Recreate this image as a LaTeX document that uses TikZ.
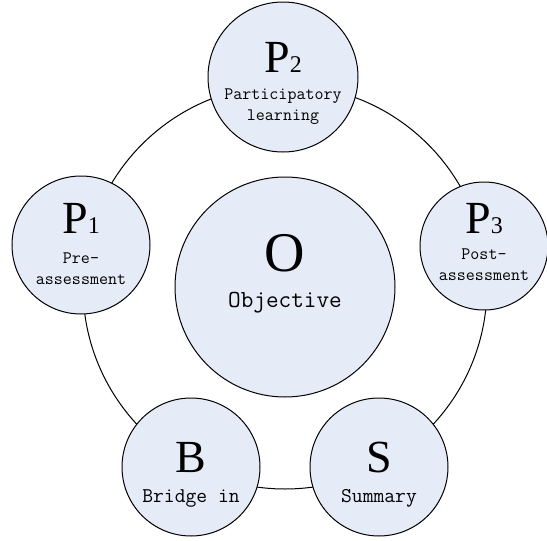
\documentclass[tikz,border=0pt]{standalone}
\usepackage{fontspec}
\setmainfont{Liberation Serif}
\usetikzlibrary{calc}
\definecolor{cfill}{RGB}{230,236,247}
\tikzset{
  bub/.style={circle, draw=black, line width=1pt, fill=cfill, inner sep=0pt},
  big/.style={anchor=base, inner sep=0pt, font=\fontsize{46}{46}\selectfont},
  lab/.style={inner sep=0pt, align=center, font=\ttfamily\fontsize{17.5}{21}\selectfont},
}
\newcommand{\sub}[1]{{\fontsize{24}{24}\selectfont #1}}
\begin{document}
\begin{tikzpicture}[x=1pt,y=-1pt]
\useasboundingbox (0,0) rectangle (547,541);
\coordinate (rc) at (285,287);
\draw[line width=1pt] (rc) circle (202pt);
\node[bub, minimum size=150pt] (p2) at (283,77) {};
\node[bub, minimum size=138pt] (p1) at (81,245) {};
\node[bub, minimum size=128pt] (p3) at (484,246) {};
\node[bub, minimum size=220pt] (o) at (285,287) {};
\node[bub, minimum size=138pt] (b) at (191,467) {};
\node[bub, minimum size=138pt] (s) at (379,467) {};
% texts
\node[big] (p2t) at ($(p2)+(0,-5)$) {P\sub{2}};
\node[lab] (p2l) at ($(p2)+(0,30)$) {Participatory\\learning};
\node[big] (p1t) at ($(p1)+(0,-12)$) {P\sub{1}};
\node[lab] (p1l) at ($(p1)+(0,24)$) {Pre-\\assessment};
\node[big] (p3t) at ($(p3)+(0,-13)$) {P\sub{3}};
\node[lab] (p3l) at ($(p3)+(0,19)$) {Post-\\assessment};
\node[big, font=\fontsize{56}{56}\selectfont] (ot) at ($(o)+(0,-16)$) {O};
\node[lab, font=\ttfamily\fontsize{24.5}{25}\selectfont] (ol) at ($(o)+(0,16)$) {Objective};
\node[big] (bt) at ($(b)+(0,5)$) {B};
\node[lab, font=\ttfamily\fontsize{21}{22}\selectfont] (bl) at ($(b)+(0,31)$) {Bridge in};
\node[big] (st) at ($(s)+(0,5)$) {S};
\node[lab, font=\ttfamily\fontsize{21}{22}\selectfont] (sl) at ($(s)+(0,31)$) {Summary};
\end{tikzpicture}
\end{document}
